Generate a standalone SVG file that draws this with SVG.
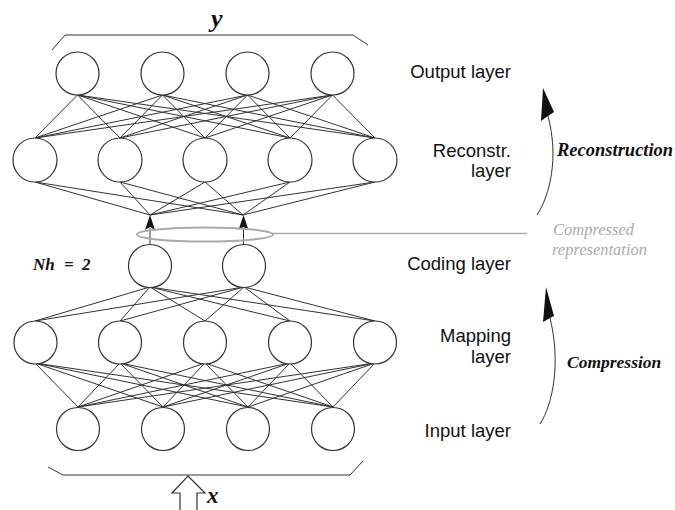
<svg xmlns="http://www.w3.org/2000/svg" width="675" height="510" viewBox="0 0 675 510">
<style>
.node{fill:#fff;stroke:#333;stroke-width:1.2}
.edge{stroke:#333;stroke-width:1;fill:none}
.lbl{font-family:"Liberation Sans",Arial,sans-serif;font-size:18.5px;fill:#111;text-anchor:end}
.bi{font-family:"Liberation Serif","Times New Roman",serif;font-weight:bold;font-style:italic;fill:#111}
.gray{font-family:"Liberation Serif","Times New Roman",serif;font-style:italic;font-size:16.5px;fill:#aaa}
</style>
<rect width="675" height="510" fill="#fff"/>
<g id="connectors">
<path class="edge" d="M77.5,95 L35,138 M77.5,95 L120,138 M77.5,95 L205,138 M77.5,95 L290,138 M77.5,95 L375,138
M162.5,95 L35,138 M162.5,95 L120,138 M162.5,95 L205,138 M162.5,95 L290,138 M162.5,95 L375,138
M247.5,95 L35,138 M247.5,95 L120,138 M247.5,95 L205,138 M247.5,95 L290,138 M247.5,95 L375,138
M332.5,95 L35,138 M332.5,95 L120,138 M332.5,95 L205,138 M332.5,95 L290,138 M332.5,95 L375,138"/>
<path class="edge" d="M35,182 L150,215 M120,182 L150,215 M205,182 L150,215 M290,182 L150,215 M375,182 L150,215
M35,182 L243,215 M120,182 L243,215 M205,182 L243,215 M290,182 L243,215 M375,182 L243,215"/>
<path class="edge" d="M150,287 L35,321 M150,287 L120,321 M150,287 L205,321 M150,287 L290,321 M150,287 L375,321
M244,287 L35,321 M244,287 L120,321 M244,287 L205,321 M244,287 L290,321 M244,287 L375,321"/>
<path class="edge" d="M35,363 L78,407 M35,363 L163,407 M35,363 L248,407 M35,363 L333,407
M120,363 L78,407 M120,363 L163,407 M120,363 L248,407 M120,363 L333,407
M205,363 L78,407 M205,363 L163,407 M205,363 L248,407 M205,363 L333,407
M290,363 L78,407 M290,363 L163,407 M290,363 L248,407 M290,363 L333,407
M375,363 L78,407 M375,363 L163,407 M375,363 L248,407 M375,363 L333,407"/>
<path class="edge" d="M150,245 L150,228"/>
<path d="M150,215 L155,230 L150,227 L145,230 Z" fill="#111"/>
<path class="edge" d="M243.5,245 L243.5,228"/>
<path d="M243.5,215 L248.5,230 L243.5,227 L238.5,230 Z" fill="#111"/>
<ellipse cx="205" cy="234.5" rx="68" ry="7" fill="none" stroke="#aaa" stroke-width="2"/>
<path d="M273,233.5 L527,233.5" stroke="#aaa" stroke-width="1.5" fill="none"/>
<path class="edge" d="M52,50 L65,35 L353,35 L368,45"/>
<path class="edge" d="M48,467 L63,475 L350,475 L363,461"/>
<path d="M188,476 L205,493 L197,493 L197,511 L180,511 L180,493 L172,493 Z" fill="#fff" stroke="#333" stroke-width="1.2"/>
<path class="edge" d="M537,215 C550,195 559,158 548,116"/>
<path d="M543,88 L554,112 L548,116 L541,121 Z" fill="#111"/>
<path class="edge" d="M540,424 C553,404 561,362 550,318"/>
<path d="M546,287 L554,316 L550,318 L543,322 Z" fill="#111"/>
</g>
<g id="output-layer">
<circle class="node" cx="77.5" cy="73.5" r="21.5"/>
<circle class="node" cx="162.5" cy="73.5" r="21.5"/>
<circle class="node" cx="247.5" cy="73.5" r="21.5"/>
<circle class="node" cx="332.5" cy="73.5" r="21.5"/>
</g>
<g id="reconstr-layer">
<circle class="node" cx="35" cy="160" r="22"/>
<circle class="node" cx="120" cy="160" r="22"/>
<circle class="node" cx="205" cy="160" r="22"/>
<circle class="node" cx="290" cy="160" r="22"/>
<circle class="node" cx="375" cy="160" r="22"/>
</g>
<g id="coding-layer">
<circle class="node" cx="150" cy="266" r="21.5"/>
<circle class="node" cx="244" cy="266" r="21.5"/>
</g>
<g id="mapping-layer">
<circle class="node" cx="35.5" cy="342.5" r="21.5"/>
<circle class="node" cx="120" cy="342.5" r="21.5"/>
<circle class="node" cx="205" cy="342.5" r="21.5"/>
<circle class="node" cx="290" cy="342.5" r="21.5"/>
<circle class="node" cx="375" cy="342.5" r="21.5"/>
</g>
<g id="input-layer">
<circle class="node" cx="78" cy="429" r="21.5"/>
<circle class="node" cx="163" cy="429" r="21.5"/>
<circle class="node" cx="248" cy="429" r="21.5"/>
<circle class="node" cx="333" cy="429" r="21.5"/>
</g>
<g id="labels">
<text class="bi" x="211" y="27" font-size="26">y</text>
<text class="bi" x="207" y="503" font-size="23">x</text>
<text class="bi" y="270" font-size="17"><tspan x="33">Nh</tspan><tspan x="64">=</tspan><tspan x="82">2</tspan></text>
<text class="lbl" x="511" y="78">Output layer</text>
<text class="lbl" x="511" y="157">Reconstr.</text>
<text class="lbl" x="511" y="177">layer</text>
<text class="lbl" x="511" y="270">Coding layer</text>
<text class="lbl" x="511" y="342">Mapping</text>
<text class="lbl" x="511" y="363">layer</text>
<text class="lbl" x="511" y="437">Input layer</text>
<text class="bi" x="557" y="156" font-size="18.5">Reconstruction</text>
<text class="bi" x="567" y="368" font-size="17.5">Compression</text>
<text class="gray" x="553" y="235">Compressed</text>
<text class="gray" x="552" y="255">representation</text>
</g>
</svg>
